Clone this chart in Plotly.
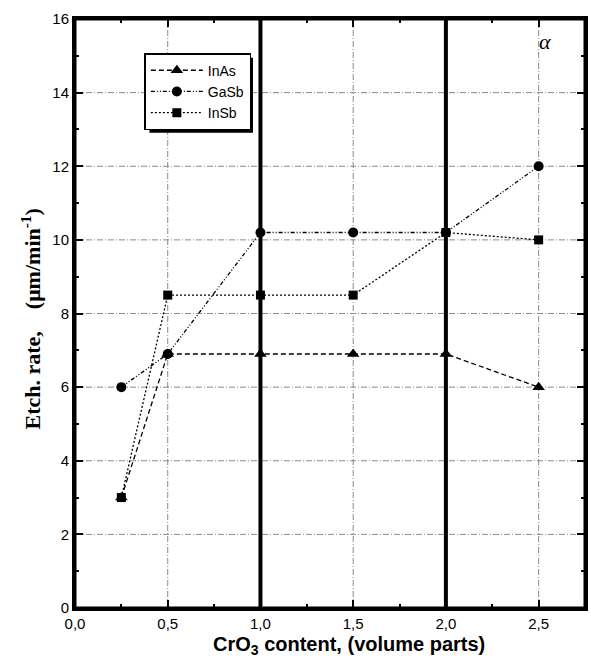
import plotly.graph_objects as go

x_vals = [0.25, 0.5, 1.0, 1.5, 2.0, 2.5]
inas = [3.0, 6.9, 6.9, 6.9, 6.9, 6.0]
gasb = [6.0, 6.9, 10.2, 10.2, 10.2, 12.0]
insb = [3.0, 8.5, 8.5, 8.5, 10.2, 10.0]
grid_x = [0.5, 1.5, 2.5]
grid_y = [2, 4, 6, 8, 10, 12, 14]
thick_lines_x = [1.0, 2.0]

fig = go.Figure()
fig.add_trace(go.Scatter(x=x_vals, y=inas, name="InAs", mode="lines+markers",
                         line=dict(color="black", width=1.3, dash="5px,3px"),
                         marker=dict(symbol="triangle-up", size=11, color="black")))
fig.add_trace(go.Scatter(x=x_vals, y=gasb, name="GaSb", mode="lines+markers",
                         line=dict(color="black", width=1.3, dash="4px,2px,1px,2px,1px,2px"),
                         marker=dict(symbol="circle", size=10, color="black")))
fig.add_trace(go.Scatter(x=x_vals, y=insb, name="InSb", mode="lines+markers",
                         line=dict(color="black", width=1.3, dash="2px,2px"),
                         marker=dict(symbol="square", size=9, color="black")))

grid_line = dict(color="#8a8a8a", width=1, dash="6px,2px,1px,2px")
for gx in grid_x:
    fig.add_shape(type="line", xref="x", yref="paper", x0=gx, x1=gx, y0=0, y1=1,
                  line=grid_line, layer="below")
for gy in grid_y:
    fig.add_shape(type="line", xref="paper", yref="y", x0=0, x1=1, y0=gy, y1=gy,
                  line=grid_line, layer="below")
for xv in thick_lines_x:
    fig.add_shape(type="line", xref="x", yref="paper", x0=xv, x1=xv, y0=0, y1=1,
                  line=dict(color="black", width=4), layer="below")

# frame
fig.add_shape(type="rect", xref="paper", yref="paper", x0=0, x1=1, y0=0, y1=1,
              line=dict(color="black", width=3), layer="above")
# legend shadow
fig.add_shape(type="rect", xref="paper", yref="paper", x0=0.146, x1=0.349, y0=0.807, y1=0.934,
              fillcolor="black", line=dict(width=0), layer="above")

fig.add_annotation(text="<i>α</i>", xref="paper", yref="paper", x=0.922, y=0.961,
                   xanchor="center", yanchor="middle",
                   showarrow=False, font=dict(family="Liberation Serif", size=22, color="black"))

# axis titles
fig.add_annotation(text="<b>CrO<sub>3</sub> content, (volume parts)</b>",
                   xref="paper", yref="paper", x=0.538, y=-0.063,
                   xanchor="center", yanchor="middle", showarrow=False,
                   font=dict(family="Liberation Sans", size=20, color="black"))
fig.add_annotation(text="<b>Etch. rate, &nbsp;&nbsp;&nbsp;(μm/min<sup>-1</sup>)</b>",
                   xref="paper", yref="paper", x=-0.086, y=0.49, textangle=-90,
                   xanchor="center", yanchor="middle", showarrow=False,
                   font=dict(family="Liberation Serif", size=22, color="black"))

axis_common = dict(showline=True, linecolor="black", linewidth=3, mirror="allticks",
                   ticks="inside", tickcolor="black", tickwidth=2, ticklen=8,
                   showgrid=False, zeroline=False,
                   tickfont=dict(family="Liberation Sans", size=15, color="black"))

fig.update_xaxes(range=[0, 2.75], dtick=0.5, tick0=0, tickformat=".1f",
                 minor=dict(dtick=0.25, ticks="inside", ticklen=4, tickwidth=2, tickcolor="black", showgrid=False),
                 **axis_common)
fig.update_yaxes(range=[0, 16], dtick=2, tick0=0,
                 minor=dict(dtick=1, ticks="inside", ticklen=4, tickwidth=2, tickcolor="black", showgrid=False),
                 **axis_common)

fig.update_layout(
    width=591, height=663,
    margin=dict(l=75, r=3, t=19, b=55),
    plot_bgcolor="white", paper_bgcolor="white",
    separators=",.",
    font=dict(family="Liberation Sans", color="black"),
    legend=dict(x=0.136, y=0.942, xanchor="left", yanchor="top",
                bgcolor="white", bordercolor="black", borderwidth=1.5,
                font=dict(family="Liberation Sans", size=14, color="black"),
                itemwidth=52, tracegroupgap=0),
    showlegend=True,
)

fig.write_html("out.html", config={"displayModeBar": False},
               post_script="document.body.style.margin='0';document.body.style.overflow='hidden';")
